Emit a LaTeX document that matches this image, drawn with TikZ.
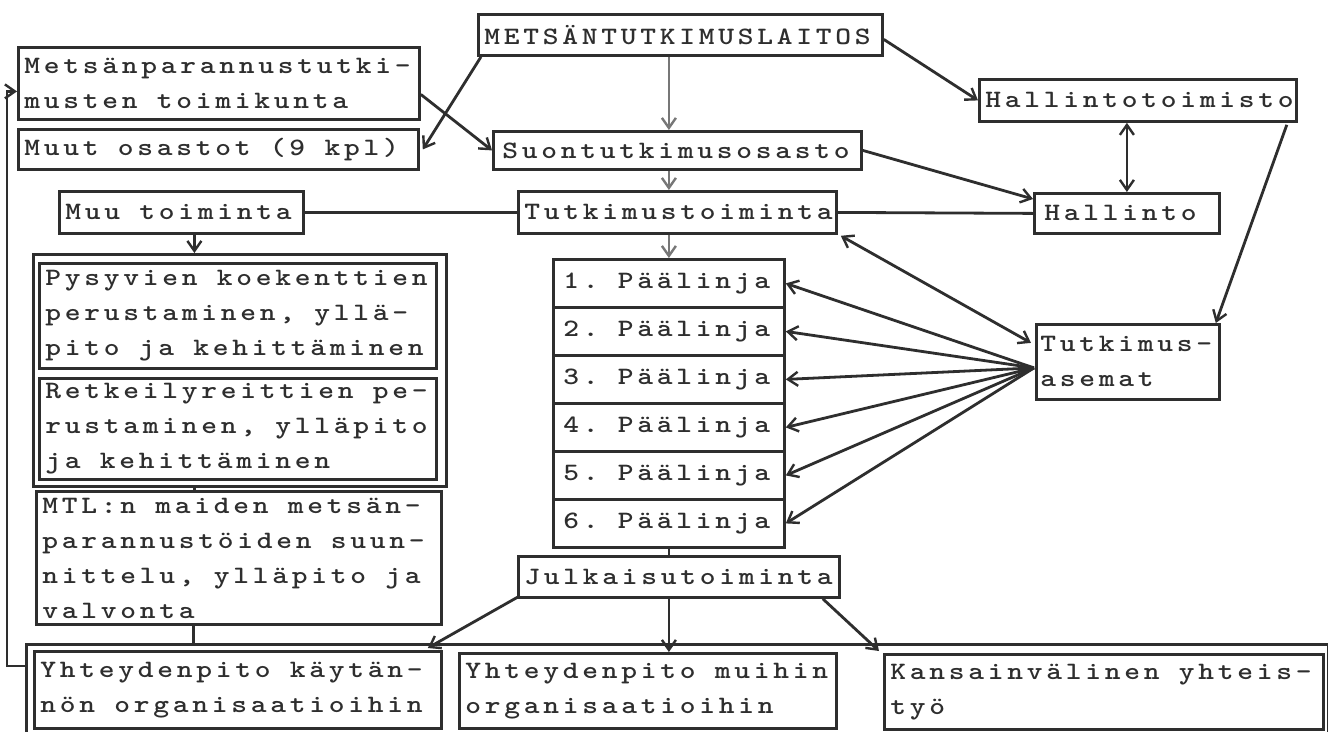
\documentclass[tikz,border=0pt]{standalone}
\usepackage{fontspec}
\newfontfamily\tw{lmmonolt10-bold.otf}[LetterSpace=15,FakeStretch=1.2]
\usetikzlibrary{arrows.meta,calc}
\definecolor{ink}{HTML}{2E2E2E}
\newcommand{\twfont}{\tw\fontsize{25}{35}\selectfont\exhyphenpenalty=10000\hyphenpenalty=10000\relax}
\newcommand{\ws}{\hspace{19.3pt}}
\tikzset{
  bx/.style={draw=ink, line width=2.8pt, text=ink, inner xsep=6pt, inner ysep=0pt,
    font=\twfont, align=left, anchor=north west},
  ln/.style={draw=ink, line width=2.8pt},
  arr/.style={ln, -{Straight Barb[length=10pt,width=14pt,line width=2.4pt]}},
  darr/.style={ln, {Straight Barb[length=10pt,width=14pt,line width=2.4pt]}-{Straight Barb[length=10pt,width=14pt,line width=2.4pt]}},
  garr/.style={arr, draw=ink!65},
}
\begin{document}
\begin{tikzpicture}[x=1pt,y=-1pt]
\useasboundingbox[fill=white] (0,0) rectangle (1328,731);
% top
\node[bx, minimum width=404, minimum height=41, text width=392] (met) at (477,13) {METSÄNTUTKIMUSLAITOS};
\node[bx, minimum width=401, minimum height=72, text width=389] (mpt) at (17,46) {Metsänparannustutki-\\musten\ws toimikunta};
\node[bx, minimum width=400, minimum height=40, text width=388] (muut) at (17,128) {Muut\ws osastot\ws(9\ws kpl)};
\node[bx, minimum width=244, minimum height=42, text width=232] (muu) at (58,190) {Muu\ws toiminta};
\node[bx, minimum width=368, minimum height=38, text width=350, inner xsep=9pt] (suo) at (492,130) {Suontutkimusosasto};
\node[bx, minimum width=318, minimum height=42, text width=306] (tut) at (517,190) {Tutkimustoiminta};
\node[bx, minimum width=317, minimum height=42, text width=305] (hto) at (978,78) {Hallintotoimisto};
\node[bx, minimum width=185, minimum height=40, text width=165, inner xsep=10pt] (hal) at (1033,192) {Hallinto};
\node[bx, minimum width=183, minimum height=75, text width=175, inner xsep=4pt] (ase) at (1035,323) {Tutkimus-\\asemat};
% paalinjat
\foreach \i in {1,...,6}{
  \node[bx, minimum width=231, minimum height=48, text width=211, inner xsep=10pt] (p\i) at (552,{258+48*(\i-1)}) {\i.\ws Päälinja};
}
% left group
\node[bx, minimum width=413, minimum height=232] (lgrp) at (32,253) {};
\node[bx, minimum width=397, minimum height=105, text width=385] (pys) at (38,262) {Pysyvien\ws koekenttien\\perustaminen,\ws yllä-\\pito\ws ja\ws kehittäminen};
\node[bx, minimum width=397, minimum height=101, text width=385] (ret) at (38,377) {Retkeilyreittien\ws pe-\\rustaminen,\ws ylläpito\\ja\ws kehittäminen};
\node[bx, minimum width=405, minimum height=133, text width=393] (mtl) at (35,490) {MTL:n\ws maiden\ws metsän-\\parannustöiden\ws suun-\\nittelu,\ws ylläpito\ws ja\\valvonta};
\node[bx, minimum width=321, minimum height=41, text width=309] (jul) at (517,555) {Julkaisutoiminta};
% bottom
\node[bx, minimum width=1302, minimum height=100] (frame) at (25,643) {};
\node[bx, minimum width=407, minimum height=77, text width=395] (y1) at (33,650) {Yhteydenpito\ws käytän-\\nön\ws organisaatioihin};
\node[bx, minimum width=377, minimum height=75, text width=365] (y2) at (458,652) {Yhteydenpito\ws muihin\\organisaatioihin};
\node[bx, minimum width=439, minimum height=75, text width=427] (y3) at (883,653) {Kansainvälinen\ws yhteis-\\työ};
% connectors
\draw[arr] ($(met.south west)+(4,0)$) -- ($(muut.east)+(3,0)$);
\draw[arr] ($(mpt.east)+(0,11)$) -- (suo.west);
\draw[garr] (met.south -| p1.north) -- (suo.north -| p1.north);
\draw[arr] ($(met.east)+(0,4.5)$) -- (hto.west);
\draw[arr] (suo.east) -- ($(hal.north west)+(0,7)$);
\draw[darr] (hto.south -| hal.north) -- (hal.north);
\draw[arr] ($(hto.south east)+(-11,2)$) -- ($(ase.north east)+(-5,0)$);
\draw[garr] (suo.south -| p1.north) -- (tut.north -| p1.north);
\draw[ln] (muu.east) -- (tut.west);
\draw[ln] (tut.east) -- (hal.west);
\draw[garr] (tut.south -| p1.north) -- (p1.north);
\draw[arr] ($(muu.south)+(13,0)$) coordinate (mm) -- (mm |- lgrp.north);
\draw[darr] ($(tut.south east)+(3,1)$) -- ($(ase.west)+(-4,-19)$);
\coordinate (fan) at ($(ase.west)+(-1,6)$);
\foreach \i in {1,...,6}{
  \draw[arr] (fan) -- (p\i.east);
}
\draw[ln] (p6.south) -- (p6.south |- jul.north);
\draw[ln] ($(lgrp.south)+(-45.5,0)$) coordinate (lg) -- (lg |- mtl.north);
\draw[ln] ($(mtl.south)+(-45.5,0)$) coordinate (ms) -- (ms |- frame.north);
\draw[arr] ($(jul.south west)+(3,-3)$) -- ($(y1.north east)+(-15,-2)$);
\draw[arr] (p6.south |- jul.south) -- (p6.south |- y2.north);
\draw[arr] ($(jul.south east)+(-18,0)$) -- ($(y3.north west)+(-4,-2)$);
\draw[arr] ($(frame.north west)+(0,23)$) -- ++(-18,0) |- ($(mpt.west)+(0,8)$);
\end{tikzpicture}
\end{document}
